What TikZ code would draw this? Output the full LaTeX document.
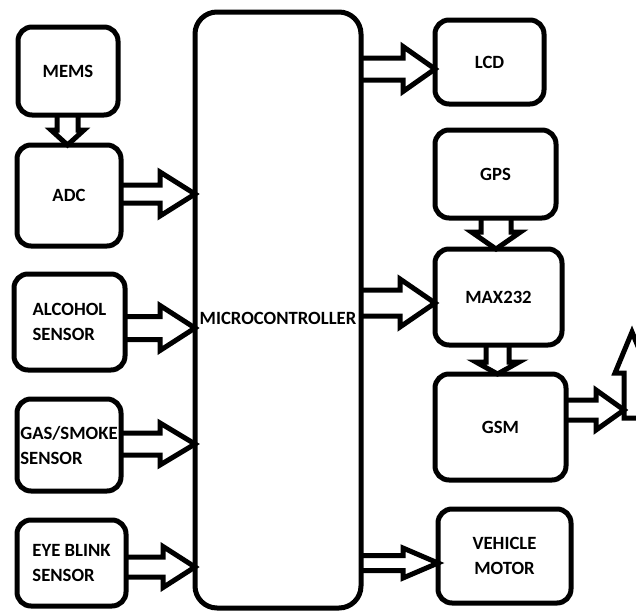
\documentclass[tikz,border=0pt]{standalone}
\usepackage{fontspec}
\setmainfont{Carlito}
\usetikzlibrary{calc}
\tikzset{
  box/.style={draw, line width=5pt, rounded corners=14pt, outer sep=0pt, inner sep=0pt,
    font=\fontsize{18.7}{25}\selectfont\bfseries, align=center},
  blockarrow/.style={draw, line width=5pt, line join=miter},
}
% horizontal block arrow: start anchor, end anchor, y, half shaft, half head, head length
\newcommand\harrow[6]{%
  \draw[blockarrow] let \p1=(#1), \p2=(#2), \p3=(0,#3) in
    (\x1,{\y3+#4pt}) -- ({\x2-#6pt},{\y3+#4pt}) -- ({\x2-#6pt},{\y3+#5pt}) -- (\x2,\y3)
    -- ({\x2-#6pt},{\y3-#5pt}) -- ({\x2-#6pt},{\y3-#4pt}) -- (\x1,{\y3-#4pt});}
% downward block arrow: start anchor, end anchor, x, half shaft, half head, head length
\newcommand\varrow[6]{%
  \draw[blockarrow] let \p1=(#1), \p2=(#2), \p3=(#3,0) in
    ({\x3-#4pt},\y1) -- ({\x3-#4pt},{\y2+#6pt}) -- ({\x3-#5pt},{\y2+#6pt}) -- (\x3,\y2)
    -- ({\x3+#5pt},{\y2+#6pt}) -- ({\x3+#4pt},{\y2+#6pt}) -- ({\x3+#4pt},\y1);}
\begin{document}
\begin{tikzpicture}[x=1pt,y=-1pt]
\clip (0,0) rectangle (636,613);
\fill[white] (0,0) rectangle (636,613);
% left column
\node[box, minimum width=100pt, minimum height=88pt] (mems) at (68,71) {MEMS};
\node[box, minimum width=104pt, minimum height=101pt] (adc) at (69,195.5) {ADC};
\node[box, minimum width=111pt, minimum height=96pt, align=left] (alc) at (69.5,322) {ALCOHOL\\SENSOR};
\node[box, minimum width=104pt, minimum height=92pt, align=left] (gas) at (69,445) {GAS/SMOKE\\SENSOR};
\node[box, minimum width=109pt, minimum height=86pt, align=left] (eye) at (71.5,563) {EYE BLINK\\SENSOR};
% microcontroller
\node[box, rounded corners=22pt, minimum width=166pt, minimum height=596pt, text height=28pt, text depth=0pt] (mc) at (278,310) {MICROCONTROLLER};
% right column
\node[box, minimum width=109pt, minimum height=84pt] (lcd) at (489.5,62) {LCD};
\node[box, minimum width=121pt, minimum height=88pt] (gps) at (495.5,174) {GPS};
\node[box, minimum width=127pt, minimum height=96pt] (max) at (498.5,297) {MAX232};
\node[box, minimum width=131pt, minimum height=106pt] (gsm) at (500.5,427) {GSM};
\node[box, minimum width=133pt, minimum height=94pt] (mot) at (504.5,556) {VEHICLE\\MOTOR};
% antenna
\coordinate (ant) at (624,410);
\draw[blockarrow] (650,418) -- (624,418) -- (624,373) -- (615,373) -- (632,332) -- (649,373) -- (640,373) -- (640,418);
% connectors
\varrow{mems.south}{adc.north}{67.5}{10.5}{16.5}{15}
\harrow{adc.east}{mc.west}{194}{9}{22}{35}
\harrow{alc.east}{mc.west}{328}{11.5}{22.5}{35}
\harrow{gas.east}{mc.west}{444}{11}{21}{35}
\harrow{eye.east}{mc.west}{567}{10}{20.5}{32}
\harrow{mc.east}{lcd.west}{69}{11}{22.5}{32}
\varrow{gps.south}{max.north}{496}{15}{24.5}{17}
\harrow{mc.east}{max.west}{303}{13}{24}{35}
\varrow{max.south}{gsm.north}{497.5}{11.5}{21.5}{12}
\harrow{gsm.east}{ant}{410}{10}{20}{28}
\harrow{mc.east}{mot.west}{563}{7.5}{15}{35}
\end{tikzpicture}
\end{document}
